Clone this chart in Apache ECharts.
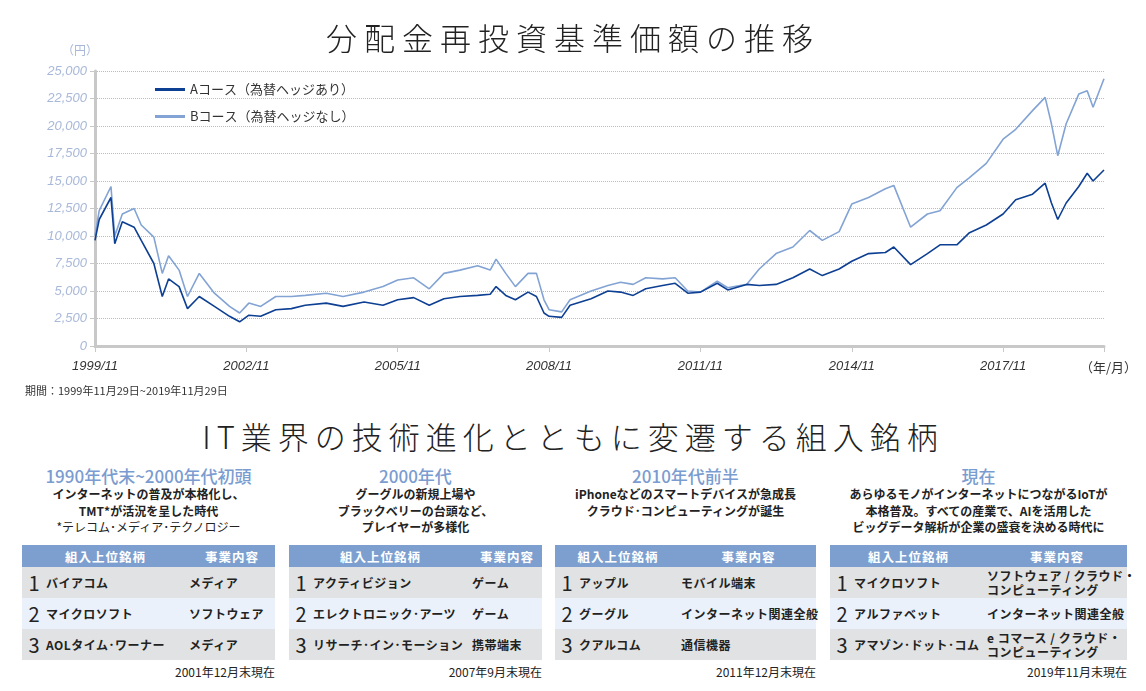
<!DOCTYPE html>
<html>
<head>
<meta charset="utf-8">
<script src="https://cdn.jsdelivr.net/npm/echarts@6/dist/echarts.min.js"></script>
<style>
  body { margin:0; width:1146px; height:691px; background:#fff; font-family:"Noto Sans CJK JP","Noto Sans",sans-serif; color:#222; position:relative; overflow:hidden; }
  #chart { position:absolute; left:0; top:0; width:1146px; height:400px; }
  .h1 { position:absolute; left:0; width:1146px; top:14px; text-align:center; font-size:31px; letter-spacing:7px; font-weight:300; }
  .h2 { position:absolute; left:0; width:1146px; top:413px; text-align:center; font-size:31px; letter-spacing:6px; font-weight:300; }
  .col { position:absolute; top:466px; }
  .era { text-align:center; color:#7a9cd0; font-size:17px; font-weight:500; line-height:20px; }
  .desc { text-align:center; font-size:12px; font-weight:bold; line-height:16.5px; height:59px; }
  .desc small { font-weight:normal; font-size:12px; }
  table { border-collapse:collapse; width:100%; table-layout:fixed; }
  th { background:#7d9fcf; color:#fff; font-size:12.5px; height:22px; padding:0; font-weight:bold; letter-spacing:1px; }
  td { height:31px; font-size:12px; font-weight:bold; padding:0; line-height:14px; white-space:nowrap; letter-spacing:0.5px; }
  tr.g td { background:#e1e2e3; }
  tr.b td { background:#eaf1fb; }
  td.n { font-size:20px; font-weight:normal; text-align:center; letter-spacing:0; }
  .foot { text-align:right; font-size:12px; margin-top:3px; }
</style>
</head>
<body>
<div id="chart"></div>
<div class="h1">分配金再投資基準価額の推移</div>
<div class="h2">IT業界の技術進化とともに変遷する組入銘柄</div>
<div id="cols"></div>
<script>
// months since 1999/11
const months = [0,1,3.8,4.7,6.5,9.3,11,14,16,17.5,20,22,24.8,28.4,32,34.4,36.6,39.4,43,46.7,50,55,59,64,68.5,72,75.8,79.5,83,86.8,91,94,95.4,97.7,100,103,105,106.8,108,111,113,118,122,125,128,131,135,138,141,144,148,150.5,155,158,162,166,170,173,177,180,184,188,190,194,198,201,205,208,212,216,219,223,226,227.5,229,231,234,236,237.4,240];
const courseA = [9600,11500,13500,9300,11300,10800,9600,7500,4500,6100,5400,3400,4500,3600,2700,2200,2800,2700,3300,3400,3700,3900,3600,4000,3700,4200,4400,3700,4300,4500,4600,4700,5400,4600,4200,4900,4500,3000,2700,2600,3700,4300,5000,4900,4600,5200,5500,5700,4800,4900,5700,5100,5600,5500,5600,6200,7000,6400,7000,7700,8400,8500,9000,7400,8400,9200,9200,10300,11000,12000,13300,13800,14800,13000,11500,13000,14500,15700,15000,16000];
const courseB = [10000,12300,14500,10000,12000,12500,11000,9900,6600,8200,6900,4500,6600,4800,3600,3000,3900,3600,4500,4500,4600,4800,4500,4900,5400,6000,6200,5200,6600,6900,7300,6900,7900,6600,5400,6600,6600,4200,3300,3100,4200,5000,5500,5800,5600,6200,6100,6200,5000,4900,5900,5300,5600,7000,8400,9000,10500,9600,10400,12900,13500,14300,14600,10800,12000,12300,14400,15300,16600,18800,19700,21400,22600,20200,17300,20200,22900,23200,21700,24300];
const tickLabels = ['1999/11','2002/11','2005/11','2008/11','2011/11','2014/11','2017/11'];

const eras = [
  {left:22, width:253, title:'1990年代末~2000年代初頭', desc:'インターネットの普及が本格化し、<br>TMT*が活況を呈した時代<br><small>*テレコム･メディア･テクノロジー</small>',
   rows:[['1','バイアコム','メディア'],['2','マイクロソフト','ソフトウェア'],['3','AOLタイム･ワーナー','メディア']], foot:'2001年12月末現在', c2:86},
  {left:289, width:253, title:'2000年代', desc:'グーグルの新規上場や<br>ブラックベリーの台頭など、<br>プレイヤーが多様化',
   rows:[['1','アクティビジョン','ゲーム'],['2','エレクトロニック･アーツ','ゲーム'],['3','リサーチ･イン･モーション','携帯端末']], foot:'2007年9月末現在', c2:70},
  {left:555, width:261, title:'2010年代前半', desc:'iPhoneなどのスマートデバイスが急成長<br>クラウド･コンピューティングが誕生',
   rows:[['1','アップル','モバイル端末'],['2','グーグル','インターネット関連全般'],['3','クアルコム','通信機器']], foot:'2011年12月末現在', c2:135},
  {left:830, width:297, title:'現在', desc:'あらゆるモノがインターネットにつながるIoTが<br>本格普及。すべての産業で、AIを活用した<br>ビッグデータ解析が企業の盛衰を決める時代に',
   rows:[['1','マイクロソフト','ソフトウェア / クラウド・<br>コンピューティング'],['2','アルファベット','インターネット関連全般'],['3','アマゾン･ドット･コム','e コマース / クラウド・<br>コンピューティング']], foot:'2019年11月末現在', c2:140}
];

let html = '';
eras.forEach(e => {
  html += `<div class="col" style="left:${e.left}px;width:${e.width}px">
    <div class="era">${e.title}</div><div class="desc">${e.desc}</div>
    <table><colgroup><col style="width:24px"><col><col style="width:${e.c2}px"></colgroup>
    <tr><th colspan="2">組入上位銘柄</th><th>事業内容</th></tr>
    ${e.rows.map((r,i) => `<tr class="${i==1?'b':'g'}"><td class="n">${r[0]}</td><td>${r[1]}</td><td>${r[2]}</td></tr>`).join('')}
    </table><div class="foot">${e.foot}</div></div>`;
});
document.getElementById('cols').innerHTML = html;

const chart = echarts.init(document.getElementById('chart'));
const axisFont = {fontFamily:'Liberation Sans', fontStyle:'italic', fontSize:13};
chart.setOption({
  animation:false,
  legend:{left:150, top:78, orient:'vertical', itemWidth:30, itemHeight:3, itemGap:14, icon:'rect',
    textStyle:{fontSize:13, color:'#333', fontFamily:'Noto Sans CJK JP'}},
  grid:{left:95, right:42, top:71, bottom:54},
  xAxis:{type:'value', min:0, max:240, interval:36,
    axisLine:{lineStyle:{color:'#c8c8c8', width:3}}, axisTick:{show:true, length:6, lineStyle:{color:'#c8c8c8'}},
    splitLine:{show:false},
    axisLabel:{...axisFont, color:'#333', margin:14, formatter:v => tickLabels[v/36] || ''}},
  yAxis:{type:'value', min:0, max:25000, interval:2500,
    axisLine:{show:true, lineStyle:{color:'#c8c8c8', width:3}}, axisTick:{show:true, length:5, lineStyle:{color:'#c8c8c8'}},
    splitLine:{lineStyle:{type:'dotted', color:'#bbb'}},
    axisLabel:{...axisFont, color:'#a8b8d8', formatter:v => v.toLocaleString('en-US')}},
  graphic:[
    {type:'text', left:62, top:44, style:{text:'（円）', fontSize:12, fill:'#a8b8d8', fontFamily:'Noto Sans CJK JP'}},
    {type:'text', left:1080, top:361, style:{text:'（年/月）', fontSize:13, fill:'#333', fontFamily:'Noto Sans CJK JP'}},
    {type:'text', left:25, top:385, style:{text:'期間：1999年11月29日~2019年11月29日', fontSize:11, fill:'#333', fontFamily:'Noto Sans CJK JP'}}
  ],
  series:[
    {name:'Aコース（為替ヘッジあり）', type:'line', showSymbol:false, data:months.map((m,i)=>[m,courseA[i]]), lineStyle:{color:'#0d3f93', width:1.6}, itemStyle:{color:'#0d3f93'}, z:3},
    {name:'Bコース（為替ヘッジなし）', type:'line', showSymbol:false, data:months.map((m,i)=>[m,courseB[i]]), lineStyle:{color:'#82a3d4', width:1.6}, itemStyle:{color:'#82a3d4'}, z:2}
  ]
});
</script>
</body>
</html>
